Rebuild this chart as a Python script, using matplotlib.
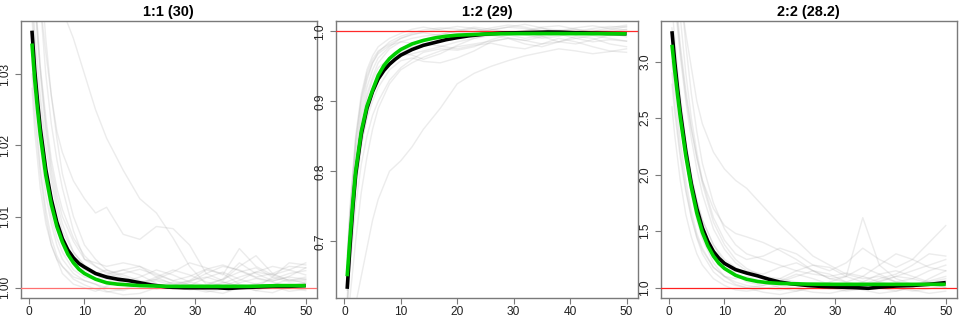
import matplotlib
matplotlib.use("Agg")
import matplotlib.pyplot as plt

plt.rcParams['font.family'] = ['Liberation Sans', 'DejaVu Sans']

titles = ["1:1 (30)", "1:2 (29)", "2:2 (28.2)"]
ref_levels = [1.0, 1.0, 1.0]
ref_colors = ["#ff7070", "#ff2a2a", "#ff2020"]

# x grid for mean / fitted curves
xm = [0.5, 1, 1.5, 2, 3, 4, 5, 6, 7, 8, 9, 10, 12, 14, 16, 18, 20, 25, 30, 35, 40, 45, 50]
# x grid for black mean with late detail
xb = [0.5, 1, 1.5, 2, 3, 4, 5, 6, 7, 8, 9, 10, 12, 14, 16, 18, 20, 22, 25, 28, 31, 34, 36, 38, 41, 44, 47, 50]
# x grid for individual grey traces
xg = [0.5, 1, 2, 3, 4, 5, 6, 8, 10, 12, 14, 17, 20, 23, 26, 29, 32, 35, 38, 41, 44, 47, 50]

# ---- panel 1 : 1:1 ----
green_11 = [1.0343, 1.0292, 1.0251, 1.0215, 1.0158, 1.0117, 1.0086, 1.0064, 1.0047, 1.0035, 1.0026,
            1.0020, 1.0012, 1.0007, 1.0005, 1.0004, 1.0003, 1.0002, 1.0002, 1.0002, 1.0002, 1.0003, 1.0003]
black_11 = [1.0361, 1.0305, 1.0262, 1.0224, 1.0166, 1.0124, 1.0092, 1.0069, 1.0053, 1.0042, 1.0034,
            1.0029, 1.0020, 1.0015, 1.0012, 1.0010, 1.0007, 1.0004, 1.0001, 1.0000, 1.0000, 1.0000,
            0.9999, 1.0000, 1.0001, 1.0002, 1.0002, 1.0003]
grey_11 = [
    [1.030, 1.024, 1.016, 1.010, 1.006, 1.004, 1.002, 1.0005, 1.000, 0.9995, 1.0002, 1.001, 1.0005, 0.9998, 1.0003, 1.001, 1.0015, 1.0008, 1.0002, 0.9996, 1.0004, 1.0012, 1.0006],
    [1.045, 1.040, 1.030, 1.022, 1.016, 1.012, 1.009, 1.005, 1.003, 1.002, 1.0025, 1.0018, 1.001, 1.0004, 1.000, 1.0008, 1.002, 1.003, 1.0025, 1.0015, 1.002, 1.003, 1.0028],
    [1.060, 1.052, 1.040, 1.030, 1.023, 1.018, 1.014, 1.008, 1.004, 1.003, 1.002, 1.0025, 1.003, 1.002, 1.001, 1.0005, 1.000, 1.0006, 1.0015, 1.0022, 1.0018, 1.001, 1.0012],
    [1.050, 1.042, 1.031, 1.023, 1.017, 1.013, 1.010, 1.0065, 1.004, 1.0035, 1.003, 1.0035, 1.003, 1.0015, 1.0005, 1.001, 1.0025, 1.002, 1.0005, 1.000, 1.0015, 1.0035, 1.0032],
    [1.052, 1.051, 1.049, 1.046, 1.043, 1.041, 1.039, 1.035, 1.030, 1.025, 1.021, 1.0165, 1.0125, 1.0105, 1.007, 1.003, 1.0005, 1.0012, 1.0035, 1.002, 1.001, 1.0015, 1.0012],
    [1.055, 1.050, 1.040, 1.033, 1.027, 1.022, 1.019, 1.015, 1.0125, 1.0105, 1.0113, 1.0075, 1.0068, 1.0086, 1.0083, 1.006, 1.002, 1.001, 1.003, 1.0045, 1.002, 1.001, 1.0015],
    [1.035, 1.029, 1.020, 1.013, 1.009, 1.006, 1.004, 1.002, 1.001, 1.0005, 0.9995, 0.999, 0.9992, 1.000, 1.0008, 1.0004, 0.9996, 0.9992, 1.000, 1.0006, 1.0002, 0.9995, 0.9998],
    [1.040, 1.034, 1.025, 1.018, 1.013, 1.0095, 1.007, 1.004, 1.0025, 1.0018, 1.0012, 1.0008, 1.0015, 1.0025, 1.0018, 1.0008, 1.0003, 1.0012, 1.0022, 1.0028, 1.0015, 1.0008, 1.001],
    [1.070, 1.060, 1.045, 1.035, 1.027, 1.021, 1.016, 1.010, 1.006, 1.004, 1.0025, 1.0015, 1.0008, 1.0012, 1.0022, 1.0035, 1.0028, 1.0018, 1.0055, 1.003, 1.0018, 1.0025, 1.0035],
    [1.028, 1.022, 1.014, 1.009, 1.006, 1.004, 1.003, 1.0015, 1.001, 1.0005, 1.000, 0.9996, 1.0004, 1.001, 1.0003, 0.9997, 1.000, 1.0008, 1.0003, 0.9996, 0.9993, 1.0002, 1.0008],
    [1.048, 1.041, 1.031, 1.024, 1.018, 1.014, 1.011, 1.007, 1.0045, 1.003, 1.0022, 1.0012, 1.0006, 1.0015, 1.0025, 1.0018, 1.0008, 1.0003, 1.001, 1.0022, 1.003, 1.0025, 1.0018],
    [1.038, 1.032, 1.022, 1.015, 1.010, 1.007, 1.005, 1.0025, 1.0015, 1.0012, 1.0018, 1.0025, 1.0018, 1.0006, 0.9998, 1.0003, 1.0014, 1.0022, 1.0012, 1.0005, 1.0012, 1.002, 1.0024],
    [1.032, 1.026, 1.017, 1.011, 1.007, 1.0045, 1.003, 1.0012, 1.0004, 0.9998, 0.9994, 0.9998, 1.0006, 1.0012, 1.0006, 0.9999, 0.9994, 0.9998, 1.0007, 1.0013, 1.0008, 1.0001, 0.9996],
    [1.042, 1.036, 1.027, 1.020, 1.015, 1.011, 1.008, 1.005, 1.0032, 1.0022, 1.0016, 1.002, 1.0026, 1.0018, 1.001, 1.0016, 1.0026, 1.0032, 1.0024, 1.0014, 1.0009, 1.0016, 1.0028],
]

# ---- panel 2 : 1:2 ----
green_12 = [0.650, 0.705, 0.755, 0.800, 0.857, 0.893, 0.916, 0.937, 0.951, 0.961, 0.968, 0.974, 0.982,
            0.987, 0.9905, 0.993, 0.9945, 0.9962, 0.9967, 0.9968, 0.9967, 0.9966, 0.9965]
black_12 = [0.632, 0.693, 0.748, 0.795, 0.853, 0.890, 0.914, 0.932, 0.944, 0.953, 0.960, 0.966, 0.974,
            0.980, 0.984, 0.988, 0.991, 0.9935, 0.996, 0.9975, 0.998, 0.9985, 0.999, 0.9988, 0.998,
            0.9975, 0.997, 0.9965]
grey_12 = [
    [0.66, 0.73, 0.83, 0.89, 0.93, 0.955, 0.97, 0.985, 0.993, 0.998, 1.002, 1.005, 1.003, 0.999, 1.002, 1.006, 1.004, 0.999, 1.001, 1.005, 1.008, 1.004, 1.002],
    [0.64, 0.70, 0.79, 0.85, 0.89, 0.915, 0.935, 0.955, 0.965, 0.968, 0.972, 0.978, 0.985, 0.99, 0.994, 0.991, 0.987, 0.992, 0.996, 0.99, 0.985, 0.988, 0.986],
    [0.55, 0.57, 0.61, 0.65, 0.69, 0.73, 0.76, 0.80, 0.815, 0.835, 0.86, 0.89, 0.925, 0.94, 0.95, 0.958, 0.965, 0.97, 0.975, 0.972, 0.968, 0.971, 0.975],
    [0.62, 0.68, 0.78, 0.84, 0.875, 0.90, 0.92, 0.945, 0.958, 0.962, 0.957, 0.955, 0.962, 0.972, 0.985, 0.99, 0.982, 0.978, 0.985, 0.993, 0.99, 0.982, 0.978],
    [0.68, 0.75, 0.85, 0.91, 0.945, 0.965, 0.978, 0.99, 0.997, 1.003, 1.006, 1.002, 0.997, 1.0, 1.005, 1.009, 1.006, 1.0, 0.996, 1.0, 1.004, 1.007, 1.006],
    [0.60, 0.66, 0.75, 0.81, 0.85, 0.88, 0.90, 0.93, 0.948, 0.96, 0.97, 0.975, 0.973, 0.978, 0.988, 0.995, 0.998, 0.993, 0.985, 0.982, 0.988, 0.995, 0.998],
    [0.65, 0.72, 0.81, 0.87, 0.91, 0.935, 0.955, 0.975, 0.985, 0.99, 0.993, 0.996, 1.0, 1.004, 1.0, 0.995, 0.99, 0.994, 1.0, 1.003, 0.998, 0.994, 0.995],
    [0.58, 0.62, 0.70, 0.77, 0.82, 0.86, 0.89, 0.925, 0.945, 0.955, 0.963, 0.972, 0.978, 0.982, 0.986, 0.99, 0.987, 0.982, 0.985, 0.99, 0.994, 0.99, 0.986],
    [0.63, 0.70, 0.80, 0.865, 0.905, 0.93, 0.948, 0.962, 0.968, 0.966, 0.96, 0.968, 0.98, 0.99, 0.996, 0.999, 0.995, 0.99, 0.993, 0.999, 1.002, 0.998, 0.992],
    [0.67, 0.74, 0.84, 0.90, 0.935, 0.955, 0.968, 0.98, 0.985, 0.983, 0.988, 0.995, 1.001, 1.006, 1.003, 0.998, 1.001, 1.006, 1.008, 1.003, 0.999, 1.002, 1.007],
    [0.61, 0.67, 0.77, 0.835, 0.88, 0.91, 0.93, 0.955, 0.97, 0.978, 0.982, 0.979, 0.975, 0.98, 0.983, 0.978, 0.975, 0.982, 0.99, 0.985, 0.978, 0.972, 0.97],
    [0.64, 0.71, 0.82, 0.88, 0.92, 0.945, 0.962, 0.978, 0.99, 0.996, 0.998, 0.994, 0.99, 0.996, 1.002, 1.006, 1.01, 1.005, 0.998, 0.995, 1.0, 1.005, 1.009],
    [0.66, 0.74, 0.845, 0.905, 0.94, 0.96, 0.972, 0.982, 0.99, 0.995, 0.999, 1.003, 1.007, 1.004, 0.998, 0.996, 1.0, 1.004, 1.002, 0.997, 0.995, 0.999, 1.003],
]

# ---- panel 3 : 2:2 ----
green_22 = [3.15, 2.92, 2.71, 2.51, 2.17, 1.89, 1.66, 1.49, 1.37, 1.28, 1.215, 1.17, 1.11, 1.075,
            1.055, 1.044, 1.038, 1.032, 1.030, 1.030, 1.030, 1.030, 1.030]
black_22 = [3.27, 3.00, 2.77, 2.56, 2.21, 1.92, 1.70, 1.53, 1.41, 1.32, 1.26, 1.215, 1.16, 1.13,
            1.105, 1.075, 1.05, 1.035, 1.02, 1.01, 1.005, 1.0, 0.995, 1.005, 1.015, 1.02, 1.03, 1.045]
grey_22 = [
    [3.0, 2.75, 2.3, 1.95, 1.68, 1.48, 1.35, 1.18, 1.1, 1.05, 1.02, 1.0, 0.98, 1.0, 1.03, 1.0, 0.97, 0.99, 1.02, 1.0, 0.97, 0.99, 1.02],
    [3.8, 3.55, 3.05, 2.65, 2.32, 2.05, 1.83, 1.52, 1.34, 1.22, 1.15, 1.12, 1.18, 1.22, 1.15, 1.08, 1.1, 1.18, 1.12, 1.05, 1.08, 1.15, 1.2],
    [4.2, 4.0, 3.6, 3.25, 2.95, 2.65, 2.45, 2.2, 2.05, 1.95, 1.88, 1.72, 1.56, 1.42, 1.28, 1.2, 1.12, 1.08, 1.1, 1.05, 1.03, 1.06, 1.1],
    [2.6, 2.35, 1.95, 1.65, 1.45, 1.3, 1.2, 1.08, 1.02, 0.98, 0.97, 0.99, 1.02, 0.99, 0.96, 0.95, 0.98, 1.02, 1.05, 1.02, 0.98, 0.95, 0.97],
    [4.5, 4.1, 3.4, 2.9, 2.5, 2.2, 1.95, 1.62, 1.42, 1.3, 1.25, 1.28, 1.35, 1.3, 1.2, 1.15, 1.22, 1.35, 1.25, 1.18, 1.25, 1.4, 1.55],
    [3.5, 3.2, 2.7, 2.3, 2.0, 1.77, 1.6, 1.38, 1.25, 1.18, 1.12, 1.08, 1.05, 1.1, 1.15, 1.12, 1.05, 1.02, 1.06, 1.1, 1.08, 1.04, 1.06],
    [3.9, 3.6, 3.1, 2.7, 2.4, 2.15, 1.95, 1.7, 1.55, 1.48, 1.45, 1.4, 1.33, 1.25, 1.15, 1.08, 1.05, 1.1, 1.2, 1.3, 1.25, 1.18, 1.15],
    [2.8, 2.55, 2.15, 1.85, 1.62, 1.45, 1.33, 1.18, 1.1, 1.08, 1.1, 1.05, 1.0, 0.97, 1.0, 1.05, 1.1, 1.62, 1.2, 1.08, 1.03, 1.05, 1.08],
    [3.3, 3.05, 2.6, 2.25, 1.98, 1.77, 1.6, 1.38, 1.22, 1.12, 1.05, 1.02, 1.06, 1.12, 1.08, 1.03, 1.0, 1.03, 1.08, 1.12, 1.2, 1.3, 1.28],
    [4.0, 3.7, 3.15, 2.75, 2.42, 2.15, 1.92, 1.58, 1.38, 1.25, 1.17, 1.1, 1.08, 1.05, 1.02, 0.99, 1.0, 1.05, 1.12, 1.15, 1.1, 1.05, 1.0],
    [3.2, 2.95, 2.5, 2.12, 1.83, 1.6, 1.43, 1.22, 1.1, 1.03, 1.0, 1.02, 1.08, 1.15, 1.2, 1.18, 1.1, 1.05, 1.0, 0.97, 1.0, 1.08, 1.15],
    [4.8, 4.4, 3.7, 3.15, 2.72, 2.38, 2.1, 1.75, 1.52, 1.38, 1.3, 1.25, 1.2, 1.15, 1.12, 1.1, 1.13, 1.1, 1.05, 1.1, 1.15, 1.2, 1.25],
    [2.9, 2.62, 2.2, 1.88, 1.63, 1.44, 1.3, 1.14, 1.06, 1.02, 1.0, 0.96, 0.94, 0.97, 1.01, 1.04, 1.02, 0.98, 0.95, 0.97, 1.01, 1.03, 1.0],
]

panels = [
    (grey_11, black_11, green_11, (0.99856, 1.0375), [1.00, 1.01, 1.02, 1.03], ["1.00", "1.01", "1.02", "1.03"]),
    (grey_12, black_12, green_12, (0.6189, 1.0152), [0.7, 0.8, 0.9, 1.0], ["0.7", "0.8", "0.9", "1.0"]),
    (grey_22, black_22, green_22, (0.909, 3.363), [1.0, 1.5, 2.0, 2.5, 3.0], ["1.0", "1.5", "2.0", "2.5", "3.0"]),
]

fig = plt.figure(figsize=(9.6, 3.2), dpi=100)
lefts = [21 / 960, 336 / 960, 661 / 960]
rights = [316.7 / 960, 637.7 / 960, 956.7 / 960]
bottom = 1 - 298 / 320
top = 1 - 20.7 / 320

frame_col = "#7a7a7a"
for i, (greys, blk, grn, ylim, yt, ytl) in enumerate(panels):
    ax = fig.add_axes([lefts[i], bottom, rights[i] - lefts[i], top - bottom])
    for g in greys:
        ax.plot(xg, g, color="#a0a0a0", alpha=0.2, lw=1.0, solid_joinstyle="round")
    ax.axhline(ref_levels[i], color=ref_colors[i], lw=0.9, zorder=3)
    ax.plot(xb, blk, color="black", lw=2.6, zorder=4, solid_capstyle="butt")
    ax.plot(xm, grn, color="#00cd00", lw=2.6, zorder=5, solid_capstyle="butt")
    ax.set_xlim(-1.48, 51.98)
    ax.set_ylim(*ylim)
    ax.set_xticks([0, 10, 20, 30, 40, 50])
    ax.set_yticks(yt)
    ax.set_yticklabels(ytl, rotation=90, va="center")
    ax.tick_params(axis="both", labelsize=8.6, length=4, width=0.8, color=frame_col, labelcolor="#222222")
    ax.tick_params(axis="x", pad=2)
    ax.tick_params(axis="y", pad=3)
    for s in ax.spines.values():
        s.set_color(frame_col)
        s.set_linewidth(1.0)
    ax.set_title(titles[i], fontsize=10.4, fontweight="bold", pad=3.5)

fig.savefig("out.png", dpi=100)
